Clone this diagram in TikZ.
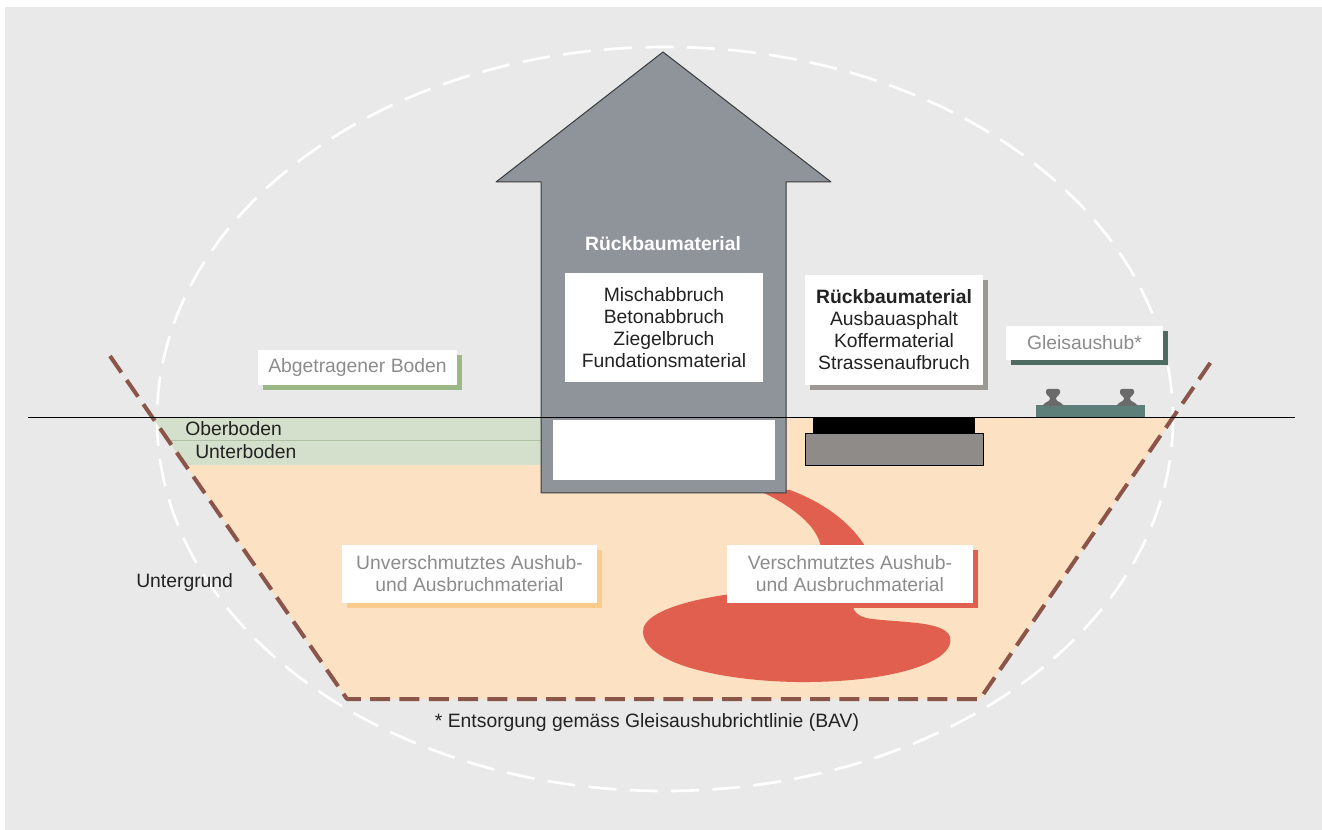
\documentclass[tikz,border=0pt]{standalone}
\usepackage{fontspec}
\setmainfont{Liberation Sans}
\usetikzlibrary{shadows}
\definecolor{bggray}{HTML}{E8E9E8}
\definecolor{soil}{HTML}{FDE1C3}
\definecolor{topsoil}{HTML}{D5E0CC}
\definecolor{topsoilline}{HTML}{AFC3A4}
\definecolor{housegray}{HTML}{8E9499}
\definecolor{spill}{HTML}{E05F4F}
\definecolor{pitline}{HTML}{8C5549}
\definecolor{greenshadow}{HTML}{9CB886}
\definecolor{roadshadow}{HTML}{9C9894}
\definecolor{roadgray}{HTML}{8E8B88}
\definecolor{sleeper}{HTML}{5C8079}
\definecolor{railgray}{HTML}{6A6A6A}
\definecolor{trackshadow}{HTML}{4E6B61}
\definecolor{soilshadow}{HTML}{FBCB8C}
\definecolor{inktext}{HTML}{222222}
\definecolor{softtext}{HTML}{8C8C8C}
\begin{document}
\begin{tikzpicture}[x=0.75pt,y=-0.75pt,line join=round]
	\tikzset{every node/.style={font=\fontsize{14.5pt}{16.5pt}\selectfont,text=inktext},
		lbl/.style={fill=white,inner sep=0pt,align=center},
		shd/.style={drop shadow={shadow xshift=3.75pt,shadow yshift=-3.75pt,fill=#1,opacity=1}}}
	\useasboundingbox (0,0) rectangle (1322,830);
	\fill[bggray] (5,7) rectangle (1322,830);
	\draw[white,line width=2pt,dash pattern=on 21pt off 10pt] (665,419) ellipse [x radius=508,y radius=372];
	\begin{scope}
		\clip (153,418)--(347,699)--(980,699)--(1173,418)--cycle;
		\fill[soil] (100,418) rectangle (1230,710);
		\fill[topsoil] (100,418) rectangle (541,465);
		\draw[topsoilline,line width=0.75pt] (100,441)--(541,441);
	\end{scope}
	\draw[pitline,line width=3pt,dash pattern=on 15pt off 7pt] (110,356)--(347,699)--(980,699)--(1215,356);
	\fill[spill] (758,490) .. controls (790,505) and (818,525) .. (821,548) -- (826,588) .. controls (730,588) and (640,605) .. (643,633) .. controls (647,668) and (740,683) .. (810,682) .. controls (900,681) and (956,660) .. (950,637) .. controls (945,620) and (895,623) .. (866,618) .. controls (853,614) and (850,606) .. (856,598) -- (872,560) .. controls (860,530) and (830,505) .. (790,490) -- cycle;
	\draw[housegray!40!black,line width=0.75pt,fill=housegray] (541,493)--(541,182)--(496,182)--(663,52)--(831,182)--(786,182)--(786,493)--cycle;
	\fill[white] (553,420) rectangle (775,480);
	\fill[black] (813,418) rectangle (975,434);
	\draw[black,line width=0.75pt,fill=roadgray] (805,434) rectangle (983,466);
	\fill[sleeper] (1036,405) rectangle (1145,418);
	\foreach \rx in {1053,1127}
		\fill[railgray,rounded corners=1.5] ({\rx-7},389)--({\rx+7},389)--({\rx+7},395)--({\rx+2.5},397)--({\rx+2.5},400)--({\rx+10},404)--({\rx+10},406)--({\rx-10},406)--({\rx-10},404)--({\rx-2.5},400)--({\rx-2.5},397)--({\rx-7},395)--cycle;
	\draw[black,line width=0.75pt] (28,418)--(1295,418);
	\node[anchor=base west,inner sep=0pt] (oberboden) at (185,436) {Oberboden};
	\node[anchor=base west,inner sep=0pt] (unterboden) at (195,459) {Unterboden};
	\node[anchor=base west,inner sep=0pt] (untergrund) at (136,588) {Untergrund};
	\node[lbl,shd=greenshadow,text=softtext,minimum width=149.25pt,minimum height=26.25pt] (abgetragen) at (357.5,367.5) {Abgetragener Boden};
	\node[anchor=base,text=white,font=\fontsize{14.5pt}{16.5pt}\selectfont\bfseries] (rueckbauhaus) at (663,251) {Rückbaumaterial};
	\node[lbl,minimum width=148.5pt,minimum height=81.75pt] (hausliste) at (664,327.5) {Mischabbruch\\Betonabbruch\\Ziegelbruch\\Fundationsmaterial};
	\node[lbl,shd=roadshadow,minimum width=133.5pt,minimum height=82.5pt] (strassenliste) at (894,330) {\textbf{Rückbaumaterial}\\Ausbauasphalt\\Koffermaterial\\Strassenaufbruch};
	\node[lbl,shd=trackshadow,text=softtext,minimum width=117.75pt,minimum height=25.5pt] (gleis) at (1084.5,343) {Gleisaushub*};
	\node[lbl,shd=soilshadow,text=softtext,minimum width=191.25pt,minimum height=43.5pt] (unverschmutzt) at (469.5,574) {Unverschmutztes Aushub-\\und Ausbruchmaterial};
	\node[lbl,shd=spill,text=softtext,minimum width=184.5pt,minimum height=43.5pt] (verschmutzt) at (850,574) {Verschmutztes Aushub-\\und Ausbruchmaterial};
	\node[anchor=base] (fussnote) at (647,727) {* Entsorgung gemäss Gleisaushubrichtlinie (BAV)};
\end{tikzpicture}
\end{document}
